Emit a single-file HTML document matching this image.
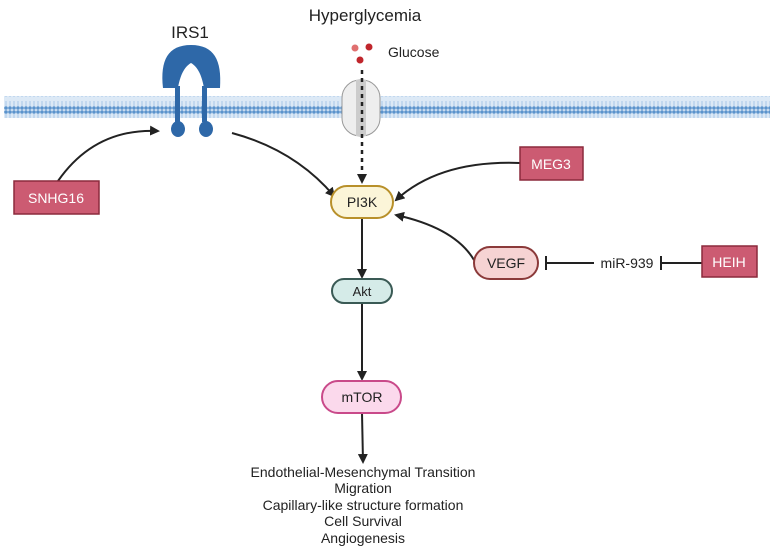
<!DOCTYPE html>
<html><head><meta charset="utf-8"><style>
body{margin:0;background:#fff}
svg{display:block;font-family:"Liberation Sans",sans-serif}
</style></head><body>
<svg width="774" height="550" viewBox="0 0 774 550">
<defs>
<marker id="a" markerWidth="10" markerHeight="10" refX="8" refY="5" orient="auto" markerUnits="userSpaceOnUse"><path d="M0,0 L10,5 L0,10 z" fill="#222"/></marker>
<pattern id="lip" width="4" height="22" patternUnits="userSpaceOnUse"><circle cx="2" cy="2" r="1.8" fill="#5b93cc"/><circle cx="2" cy="20" r="1.8" fill="#5b93cc"/><line x1="2" y1="4" x2="2" y2="9" stroke="#a9c8e8" stroke-width="1"/><line x1="2" y1="13" x2="2" y2="18" stroke="#a9c8e8" stroke-width="1"/></pattern>
</defs>
<rect x="4" y="96" width="766" height="22" fill="#dce9f6"/>
<rect x="4" y="96" width="766" height="22" fill="url(#lip)"/>
<text x="190" y="38" font-size="17" text-anchor="middle" fill="#222">IRS1</text>
<text x="365" y="21" font-size="17" text-anchor="middle" fill="#222">Hyperglycemia</text>
<text x="388" y="57" font-size="14" fill="#222">Glucose</text>
<circle cx="355" cy="48" r="3.5" fill="#e07070"/><circle cx="369" cy="47" r="3.5" fill="#c0262c"/><circle cx="360" cy="60" r="3.5" fill="#c0262c"/>
<!-- IRS1 -->
<g fill="#2e68a8">
<path d="M163,88 C160,60 168,45 191,45 C214,45 222,60 220,88 L204,88 C202,76 198,67 191,63 C184,67 180,76 178,88 z"/>
<rect x="175" y="86" width="5" height="36"/><rect x="202" y="86" width="5" height="36"/>
<ellipse cx="178" cy="129" rx="7" ry="8"/><ellipse cx="206" cy="129" rx="7" ry="8"/>
</g>
<!-- transporter -->
<rect x="342" y="80" width="38" height="56" rx="18" fill="#eee" stroke="#999"/>
<rect x="356" y="80" width="10" height="56" fill="#ccc"/>
<line x1="362" y1="70" x2="362" y2="182" stroke="#222" stroke-width="2.5" stroke-dasharray="4,4" marker-end="url(#a)"/>
<!-- arrows -->
<path d="M58,181 Q95,128 158,131" fill="none" stroke="#222" stroke-width="2" marker-end="url(#a)"/>
<path d="M232,133 Q295,150 334,196" fill="none" stroke="#222" stroke-width="2" marker-end="url(#a)"/>
<path d="M520,163 Q440,160 396,200" fill="none" stroke="#222" stroke-width="2" marker-end="url(#a)"/>
<path d="M474,260 Q455,228 396,215" fill="none" stroke="#222" stroke-width="2" marker-end="url(#a)"/>
<line x1="362" y1="218" x2="362" y2="277" stroke="#222" stroke-width="2" marker-end="url(#a)"/>
<line x1="362" y1="303" x2="362" y2="379" stroke="#222" stroke-width="2" marker-end="url(#a)"/>
<line x1="362" y1="413" x2="363" y2="462" stroke="#222" stroke-width="2" marker-end="url(#a)"/>
<line x1="546" y1="263" x2="594" y2="263" stroke="#222" stroke-width="2"/><line x1="546" y1="256" x2="546" y2="270" stroke="#222" stroke-width="2"/>
<line x1="661" y1="263" x2="702" y2="263" stroke="#222" stroke-width="2"/><line x1="661" y1="256" x2="661" y2="270" stroke="#222" stroke-width="2"/>
<text x="627" y="268" font-size="14" text-anchor="middle" fill="#222">miR-939</text>
<!-- nodes -->
<rect x="14" y="181" width="85" height="33" fill="#cc5b72" stroke="#8b2a3c" stroke-width="1.5"/>
<text x="56" y="203" font-size="14" fill="#fff" text-anchor="middle">SNHG16</text>
<rect x="520" y="147" width="63" height="33" fill="#cc5b72" stroke="#8b2a3c" stroke-width="1.5"/>
<text x="551" y="169" font-size="14" fill="#fff" text-anchor="middle">MEG3</text>
<rect x="702" y="246" width="55" height="31" fill="#cc5b72" stroke="#8b2a3c" stroke-width="1.5"/>
<text x="729" y="267" font-size="14" fill="#fff" text-anchor="middle">HEIH</text>
<rect x="331" y="186" width="62" height="32" rx="16" fill="#fbf5d8" stroke="#b8902a" stroke-width="2"/>
<text x="362" y="207" font-size="14" text-anchor="middle" fill="#222">PI3K</text>
<rect x="332" y="279" width="60" height="24" rx="12" fill="#d5ebe8" stroke="#3a5a55" stroke-width="2"/>
<text x="362" y="296" font-size="13" text-anchor="middle" fill="#222">Akt</text>
<rect x="474" y="247" width="64" height="32" rx="16" fill="#f6d3d3" stroke="#8b3a3a" stroke-width="2"/>
<text x="506" y="268" font-size="14" text-anchor="middle" fill="#222">VEGF</text>
<rect x="322" y="381" width="79" height="32" rx="16" fill="#fbd9ec" stroke="#c94a8a" stroke-width="2"/>
<text x="362" y="402" font-size="14" text-anchor="middle" fill="#222">mTOR</text>
<g font-size="14" text-anchor="middle" fill="#222">
<text x="363" y="477">Endothelial-Mesenchymal Transition</text>
<text x="363" y="493">Migration</text>
<text x="363" y="510">Capillary-like structure formation</text>
<text x="363" y="526">Cell Survival</text>
<text x="363" y="543">Angiogenesis</text>
</g>
</svg>
</body></html>
